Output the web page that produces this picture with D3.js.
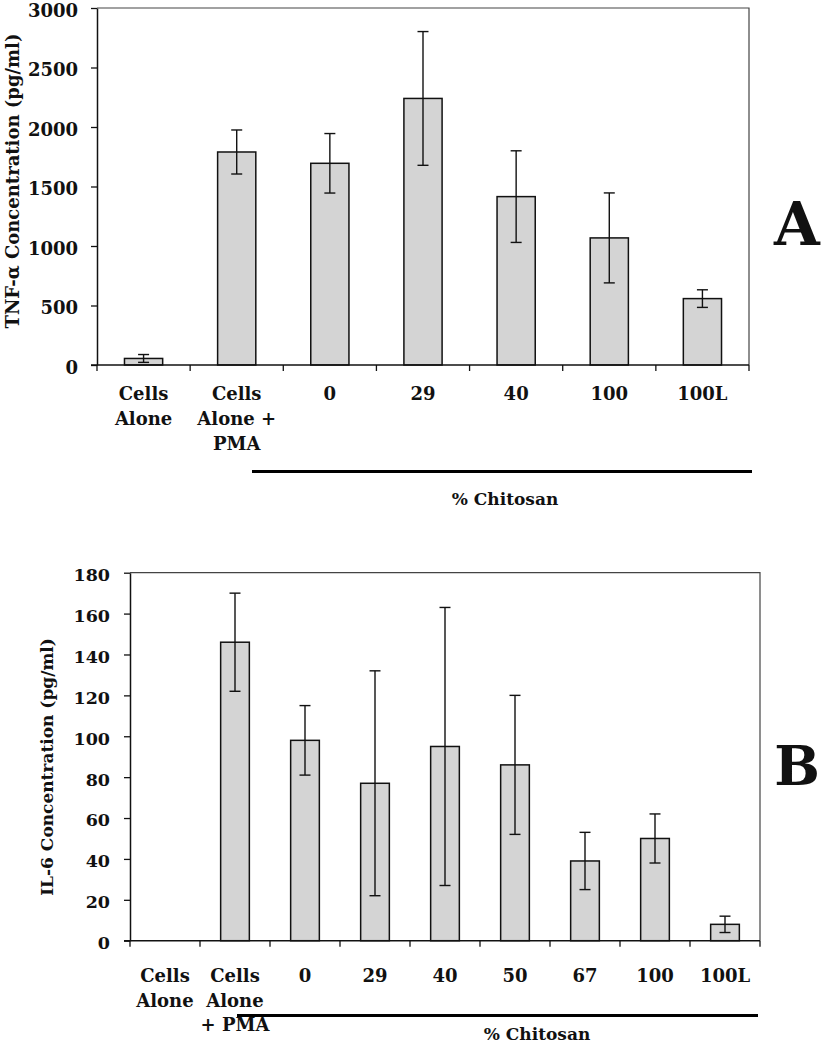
<!DOCTYPE html>
<html>
<head>
<meta charset="utf-8">
<script src="https://cdn.jsdelivr.net/npm/d3@7"></script>
<style>
  html, body { margin: 0; padding: 0; background: #fff; }
  svg { display: block; }
  text { font-family: "DejaVu Serif", serif; font-weight: bold; fill: #111; }
</style>
</head>
<body>
<svg id="chart" width="821" height="1050"></svg>
<script>
// ---------- Panel A data (TNF-α) ----------
const catsA = [["Cells", "Alone"], ["Cells", "Alone +", "PMA"], ["0"], ["29"], ["40"], ["100"], ["100L"]];
const valsA = [55, 1790, 1695, 2240, 1415, 1068, 558];
const errsA = [33, 185, 250, 562, 385, 378, 74];
const ticksA = [0, 500, 1000, 1500, 2000, 2500, 3000];

// ---------- Panel B data (IL-6) ----------
const catsB = [["Cells", "Alone"], ["Cells", "Alone", "+ PMA"], ["0"], ["29"], ["40"], ["50"], ["67"], ["100"], ["100L"]];
const valsB = [0, 146, 98, 77, 95, 86, 39, 50, 8];
const errsB = [null, 24, 17, 55, 68, 34, 14, 12, 4];
const ticksB = [0, 20, 40, 60, 80, 100, 120, 140, 160, 180];

const svg = d3.select("#chart");

function panel(cfg) {
  const g = svg.append("g");
  const idx = cfg.cats.map((d, i) => i);
  const x = d3.scaleBand().domain(idx).range([cfg.left, cfg.right]).paddingInner(0).paddingOuter(0);
  const y = d3.scaleLinear().domain([0, cfg.ymax]).range([cfg.bottom, cfg.top]);
  const bw = x.bandwidth() * cfg.barFrac;

  // frame (top & right)
  g.append("path")
    .attr("d", `M${cfg.left},${cfg.top}H${cfg.right}V${cfg.bottom}`)
    .attr("fill", "none").attr("stroke", "#444").attr("stroke-width", 1.2);

  // bars
  g.selectAll("rect.bar").data(cfg.vals).join("rect")
    .attr("class", "bar")
    .attr("x", (d, i) => x(i) + x.bandwidth() / 2 - bw / 2)
    .attr("width", bw)
    .attr("y", d => y(d))
    .attr("height", d => y(0) - y(d))
    .attr("fill", "#d4d4d4")
    .attr("stroke", "#111")
    .attr("stroke-width", 1.5);

  // error bars
  const eb = g.selectAll("g.err").data(cfg.vals.map((v, i) => ({v, e: cfg.errs[i], i})).filter(d => d.e != null))
    .join("g").attr("class", "err")
    .attr("stroke", "#111").attr("stroke-width", 1.4);
  eb.append("line")
    .attr("x1", d => x(d.i) + x.bandwidth() / 2).attr("x2", d => x(d.i) + x.bandwidth() / 2)
    .attr("y1", d => y(d.v + d.e)).attr("y2", d => y(Math.max(0, d.v - d.e)));
  eb.append("line")
    .attr("x1", d => x(d.i) + x.bandwidth() / 2 - 5.5).attr("x2", d => x(d.i) + x.bandwidth() / 2 + 5.5)
    .attr("y1", d => y(d.v + d.e)).attr("y2", d => y(d.v + d.e));
  eb.append("line")
    .attr("x1", d => x(d.i) + x.bandwidth() / 2 - 5.5).attr("x2", d => x(d.i) + x.bandwidth() / 2 + 5.5)
    .attr("y1", d => y(Math.max(0, d.v - d.e))).attr("y2", d => y(Math.max(0, d.v - d.e)));

  // y axis
  const ya = g.append("g").attr("transform", `translate(${cfg.left},0)`)
    .call(d3.axisLeft(y).tickValues(cfg.ticks).tickFormat(d3.format("d")).tickSize(6).tickPadding(cfg.tickPad).tickSizeOuter(0));
  ya.select(".domain").attr("stroke", "#111").attr("stroke-width", 1.5);
  ya.selectAll(".tick line").attr("stroke", "#111").attr("stroke-width", 1.3);
  ya.selectAll(".tick text").attr("font-size", cfg.tickFont).attr("dy", "0.45em")
    .attr("font-family", "DejaVu Serif").attr("font-weight", "bold").attr("fill", "#111");

  // x axis line & ticks at band boundaries
  g.append("line").attr("x1", cfg.left - 6).attr("x2", cfg.right)
    .attr("y1", y(0)).attr("y2", y(0)).attr("stroke", "#111").attr("stroke-width", 1.5);
  const bounds = idx.map(i => x(i)).concat([cfg.right]);
  g.selectAll("line.xt").data(bounds).join("line").attr("class", "xt")
    .attr("x1", d => d).attr("x2", d => d)
    .attr("y1", y(0)).attr("y2", y(0) + 6)
    .attr("stroke", "#111").attr("stroke-width", 1.3);

  // x labels (multi-line)
  const lab = g.selectAll("text.xl").data(cfg.cats).join("text").attr("class", "xl")
    .attr("text-anchor", "middle").attr("font-size", cfg.labFont);
  lab.each(function(lines, i) {
    d3.select(this).selectAll("tspan").data(lines).join("tspan")
      .attr("x", x(i) + x.bandwidth() / 2)
      .attr("y", (l, k) => cfg.labY + k * cfg.labLH)
      .text(l => l);
  });

  // y title
  g.append("text")
    .attr("transform", `translate(${cfg.ytX},${cfg.ytY}) rotate(-90)`)
    .attr("text-anchor", "middle").attr("dy", "0.35em")
    .attr("font-size", cfg.ytFont)
    .text(cfg.ytitle);

  // % Chitosan bracket
  g.append("line").attr("x1", cfg.chitX1).attr("x2", cfg.chitX2)
    .attr("y1", cfg.chitY).attr("y2", cfg.chitY)
    .attr("stroke", "#000").attr("stroke-width", 3);
  g.append("text").attr("x", cfg.chitTX).attr("y", cfg.chitTY)
    .attr("text-anchor", "middle").attr("font-size", cfg.chitFont)
    .text("% Chitosan");

  // panel letter
  g.append("text").attr("x", cfg.letX).attr("y", cfg.letY)
    .attr("text-anchor", "middle").attr("font-size", cfg.letFont)
    .text(cfg.letter);
}

panel({
  cats: catsA, vals: valsA, errs: errsA, ticks: ticksA, ymax: 3000,
  left: 97, right: 749, top: 8, bottom: 365, barFrac: 0.41,
  tickPad: 13, tickFont: 18,
  labY: 400, labLH: 25, labFont: 18,
  ytitle: "TNF-α Concentration (pg/ml)", ytX: 13, ytY: 181, ytFont: 18,
  chitX1: 252, chitX2: 752, chitY: 471.5, chitTX: 505, chitTY: 505, chitFont: 17,
  letter: "A", letX: 797, letY: 245, letFont: 59
});

panel({
  cats: catsB, vals: valsB, errs: errsB, ticks: ticksB, ymax: 180,
  left: 130, right: 760, top: 572.7, bottom: 940.7, barFrac: 0.41,
  tickPad: 14, tickFont: 17.5,
  labY: 982, labLH: 24.5, labFont: 18,
  ytitle: "IL-6 Concentration (pg/ml)", ytX: 47, ytY: 767, ytFont: 17,
  chitX1: 237, chitX2: 758, chitY: 1015.5, chitTX: 537, chitTY: 1040, chitFont: 17,
  letter: "B", letX: 797, letY: 785, letFont: 54
});
</script>
</body>
</html>
